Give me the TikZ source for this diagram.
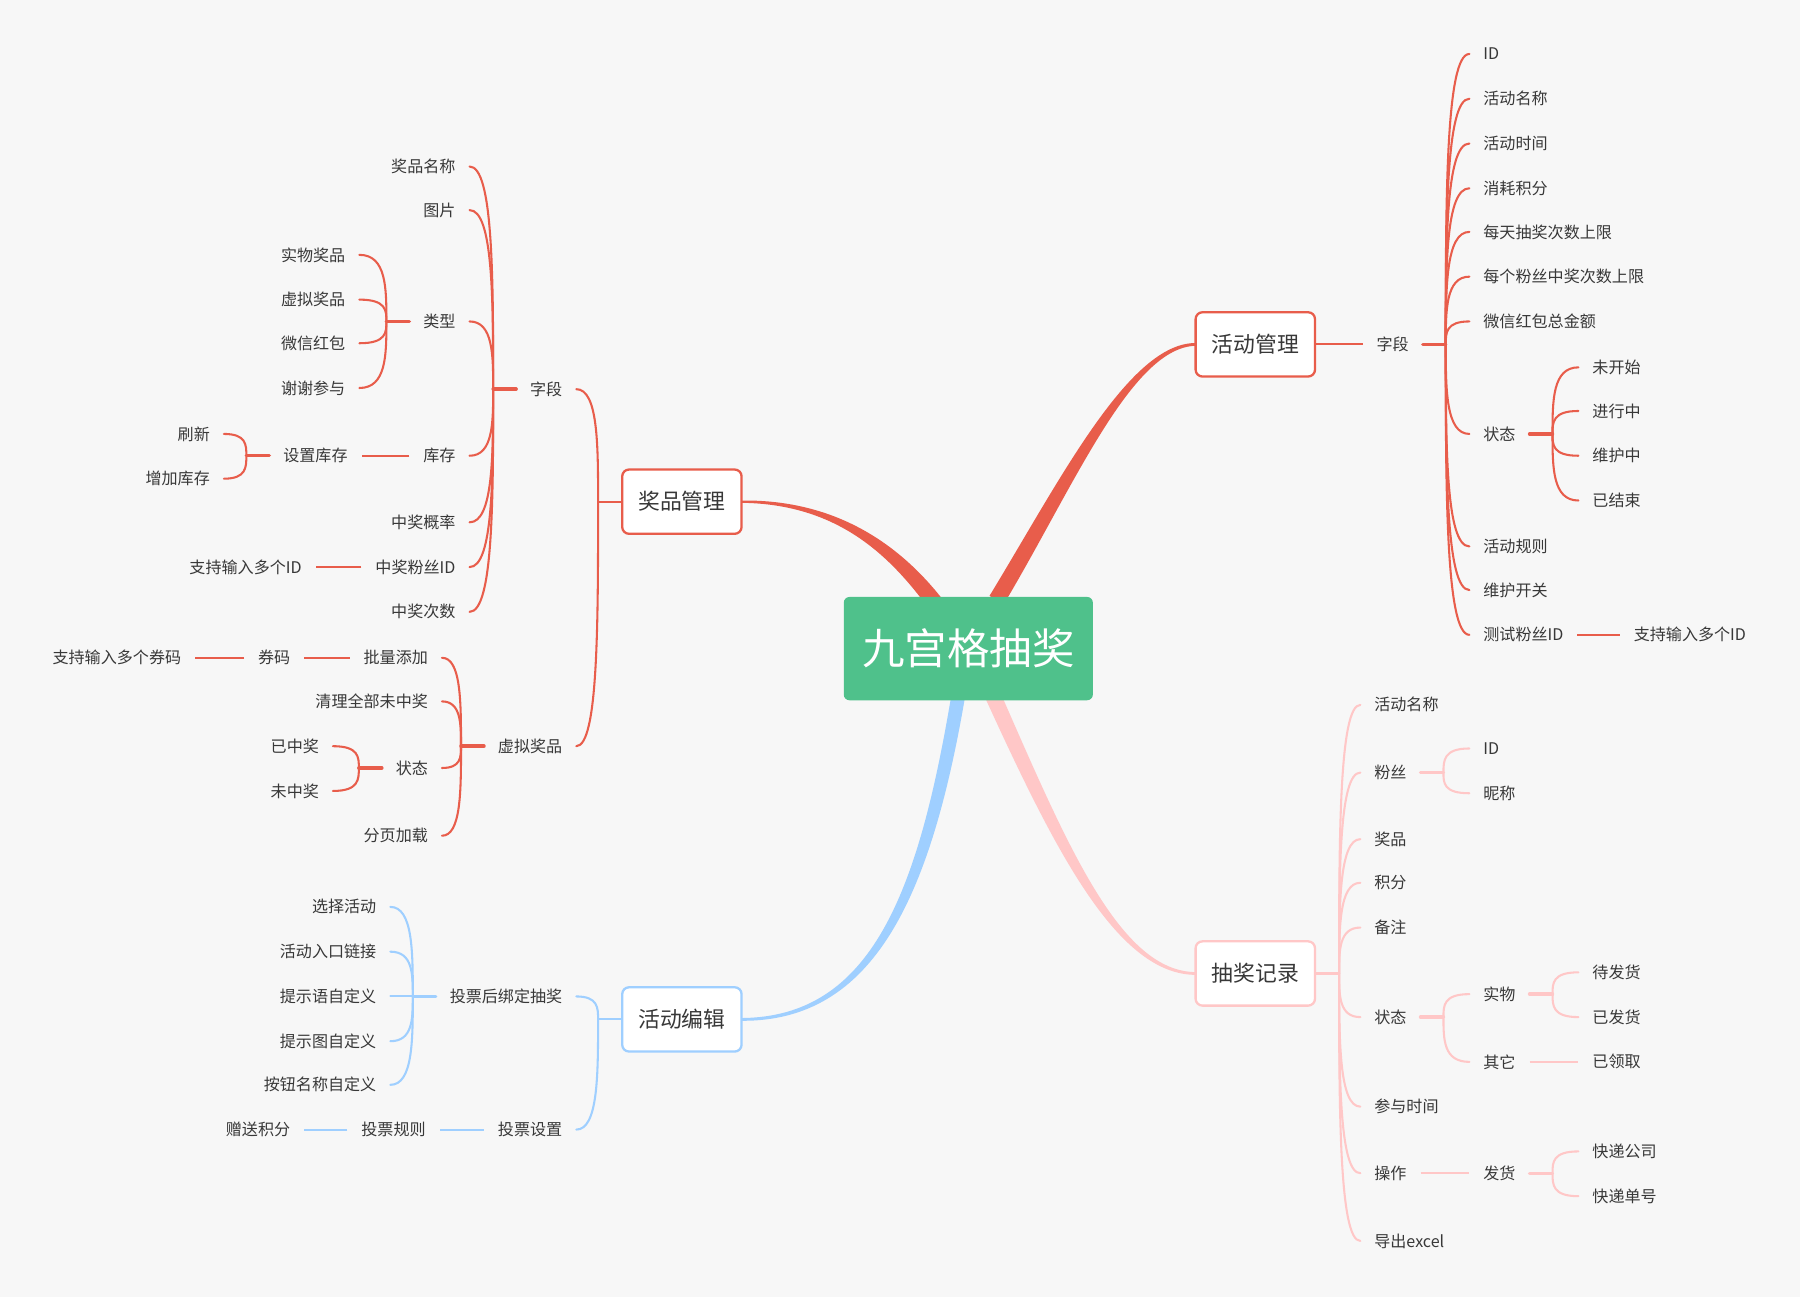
\documentclass[tikz,border=0pt]{standalone}
\usepackage{fontspec}
\setmainfont{Noto Sans CJK SC}
\usetikzlibrary{calc}
\definecolor{bgc}{HTML}{F7F7F7}
\definecolor{red1}{HTML}{E85D4B}
\definecolor{blue1}{HTML}{9FCFFF}
\definecolor{pink1}{HTML}{FFC7C7}
\definecolor{green1}{HTML}{4FC18B}
\definecolor{txt}{HTML}{383838}
\pgfdeclarelayer{back}
\pgfdeclarelayer{canvas}
\pgfsetlayers{canvas,back,main}
\newcommand{\brL}[4][stubline]{%
  \draw[#1,#2] (#3.west) -- ++(-20,0) coordinate (J#3);
  \foreach \ch in {#4} {\draw[curveline,#2] (\ch.east) .. controls (J#3 |- \ch.east) and ($(J#3)!0.5!(J#3 |- \ch.east)$) .. (J#3);}%
}
\newcommand{\brR}[4][stubline]{%
  \draw[#1,#2] (#3.east) -- ++(20,0) coordinate (J#3);
  \foreach \ch in {#4} {\draw[curveline,#2] (\ch.west) .. controls (J#3 |- \ch.west) and ($(J#3)!0.5!(J#3 |- \ch.west)$) .. (J#3);}%
}
\tikzset{
  leaf/.style={font=\fontsize{14}{16}\selectfont, text=txt, inner xsep=12pt, inner ysep=3pt},
  L/.style={leaf, anchor=east},
  R/.style={leaf, anchor=west},
  box/.style={font=\fontsize{19}{22}\selectfont, text=txt, line width=2pt, rounded corners=6pt, fill=white, minimum width=104pt, minimum height=56pt},
  rootnode/.style={font=\fontsize{37}{40}\selectfont, text=white, fill=green1, rounded corners=5pt, minimum width=217pt, minimum height=90pt},
  curveline/.style={line width=1.8pt, line cap=round},
  stubline/.style={line width=3pt, line cap=round},
  plainline/.style={line width=1.8pt}
}
\begin{document}
\begin{tikzpicture}[x=1pt,y=-1pt]
\begin{pgfonlayer}{canvas}
\fill[bgc] (0,0) rectangle (1568,1130);
\end{pgfonlayer}
\useasboundingbox (0,0) rectangle (1568,1130);

% main nodes
\node[rootnode] (root) at (843.5,565) {九宫格抽奖};
\node[box,draw=red1] (jp) at (594,437) {奖品管理};
\node[box,draw=red1] (hd) at (1093.5,300) {活动管理};
\node[box,draw=blue1] (bj) at (594,888) {活动编辑};
\node[box,draw=pink1] (cj) at (1093.5,848) {抽奖记录};

% 奖品管理 subtree
\node[L] (zd) at (502,339) {字段};
\node[L] (xn) at (502,650) {虚拟奖品};
\node[L] (a1) at (409,145) {奖品名称};
\node[L] (a2) at (409,183) {图片};
\node[L] (a3) at (409,280) {类型};
\node[L] (a4) at (409,397) {库存};
\node[L] (a5) at (409,455) {中奖概率};
\node[L] (a6) at (409,494) {中奖粉丝ID};
\node[L] (a7) at (409,533) {中奖次数};
\node[L] (b1) at (313,222) {实物奖品};
\node[L] (b2) at (313,261) {虚拟奖品};
\node[L] (b3) at (313,299) {微信红包};
\node[L] (b4) at (313,338) {谢谢参与};
\node[L] (c1) at (315,397) {设置库存};
\node[L] (c2) at (195,378) {刷新};
\node[L] (c3) at (195,417) {增加库存};
\node[L] (d1) at (275,494) {支持输入多个ID};
\node[L] (e1) at (385,573) {批量添加};
\node[L] (e2) at (385,611) {清理全部未中奖};
\node[L] (e3) at (385,669) {状态};
\node[L] (e4) at (385,728) {分页加载};
\node[L] (f1) at (265,573) {券码};
\node[L] (f2) at (170,573) {支持输入多个券码};
\node[L] (g1) at (290,650) {已中奖};
\node[L] (g2) at (290,689) {未中奖};

% 活动编辑 subtree
\node[L] (h1) at (502,868) {投票后绑定抽奖};
\node[L] (h2) at (502,984) {投票设置};
\node[L] (i1) at (340,790) {选择活动};
\node[L] (i2) at (340,829) {活动入口链接};
\node[L] (i3) at (340,868) {提示语自定义};
\node[L] (i4) at (340,907) {提示图自定义};
\node[L] (i5) at (340,945) {按钮名称自定义};
\node[L] (k1) at (383,984) {投票规则};
\node[L] (k2) at (265,984) {赠送积分};

% 活动管理 subtree
\node[R] (rz) at (1187,300) {字段};
\node[R] (m1) at (1280,47) {ID};
\node[R] (m2) at (1280,86) {活动名称};
\node[R] (m3) at (1280,125) {活动时间};
\node[R] (m4) at (1280,164) {消耗积分};
\node[R] (m5) at (1280,202) {每天抽奖次数上限};
\node[R] (m6) at (1280,241) {每个粉丝中奖次数上限};
\node[R] (m7) at (1280,280) {微信红包总金额};
\node[R] (m8) at (1280,378) {状态};
\node[R] (m9) at (1280,476) {活动规则};
\node[R] (m10) at (1280,514) {维护开关};
\node[R] (m11) at (1280,553) {测试粉丝ID};
\node[R] (n1) at (1375,320) {未开始};
\node[R] (n2) at (1375,358) {进行中};
\node[R] (n3) at (1375,397) {维护中};
\node[R] (n4) at (1375,436) {已结束};
\node[R] (o1) at (1411,553) {支持输入多个ID};

% 抽奖记录 subtree
\node[R] (p1) at (1185,614) {活动名称};
\node[R] (p2) at (1185,673) {粉丝};
\node[R] (p3) at (1185,731) {奖品};
\node[R] (p4) at (1185,769) {积分};
\node[R] (p5) at (1185,808) {备注};
\node[R] (p6) at (1185,886) {状态};
\node[R] (p7) at (1185,964) {参与时间};
\node[R] (p8) at (1185,1022) {操作};
\node[R] (p9) at (1185,1081) {导出excel};
\node[R] (q1) at (1280,652) {ID};
\node[R] (q2) at (1280,691) {昵称};
\node[R] (s1) at (1280,866) {实物};
\node[R] (s2) at (1280,925) {其它};
\node[R] (t1) at (1375,847) {待发货};
\node[R] (t2) at (1375,886) {已发货};
\node[R] (t3) at (1375,925) {已领取};
\node[R] (u1) at (1280,1022) {发货};
\node[R] (v1) at (1375,1003) {快递公司};
\node[R] (v2) at (1375,1042) {快递单号};

\begin{pgfonlayer}{back}
% tapered main branches
\fill[red1] (646,436) .. controls (730,435) and (785,476) .. (821,522) -- (809,530) .. controls (775,484) and (730,439) .. (646,438) -- cycle;
\fill[red1] (874,527) .. controls (936,423) and (986,302) .. (1042,301.2) -- (1042,298.8) .. controls (984,298) and (924,417) .. (862,519) -- cycle;
\fill[blue1] (841,605) .. controls (811,782) and (761,890) .. (646,889.2) -- (646,886.8) .. controls (759,886) and (800,778) .. (829,604) -- cycle;
\fill[pink1] (871.3,603) .. controls (930,737) and (976,846.8) .. (1042,846.8) -- (1042,849.2) .. controls (974,849.5) and (920,743) .. (858.7,609) -- cycle;

% 奖品管理
\brL[curveline]{red1}{jp}{zd,xn}
\brL{red1}{zd}{a1,a2,a3,a4,a5,a6,a7}
\brL{red1}{a3}{b1,b2,b3,b4}
\draw[plainline,red1] (a4.west) -- (c1.east);
\brL{red1}{c1}{c2,c3}
\draw[plainline,red1] (a6.west) -- (d1.east);
\brL{red1}{xn}{e1,e2,e3,e4}
\draw[plainline,red1] (e1.west) -- (f1.east);
\draw[plainline,red1] (f1.west) -- (f2.east);
\brL{red1}{e3}{g1,g2}

% 活动编辑
\brL[curveline]{blue1}{bj}{h1,h2}
\brL{blue1}{h1}{i1,i2,i3,i4,i5}
\draw[plainline,blue1] (h2.west) -- (k1.east);
\draw[plainline,blue1] (k1.west) -- (k2.east);

% 活动管理
\draw[plainline,red1] (hd.east) -- (rz.west);
\brR{red1}{rz}{m1,m2,m3,m4,m5,m6,m7,m8,m9,m10,m11}
\brR{red1}{m8}{n1,n2,n3,n4}
\draw[plainline,red1] (m11.east) -- (o1.west);

% 抽奖记录
\brR[curveline]{pink1}{cj}{p1,p2,p3,p4,p5,p6,p7,p8,p9}
\brR{pink1}{p2}{q1,q2}
\brR{pink1}{p6}{s1,s2}
\brR{pink1}{s1}{t1,t2}
\draw[plainline,pink1] (s2.east) -- (t3.west);
\draw[plainline,pink1] (p8.east) -- (u1.west);
\brR{pink1}{u1}{v1,v2}
\end{pgfonlayer}
\end{tikzpicture}
\end{document}
